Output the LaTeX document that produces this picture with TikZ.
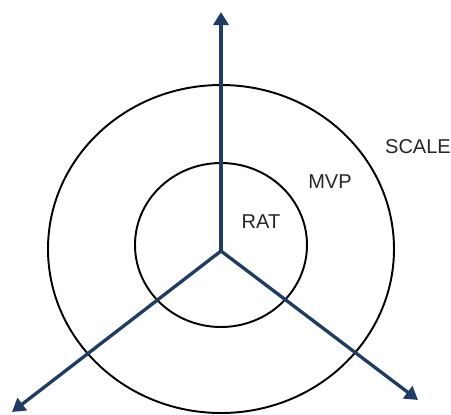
\documentclass[tikz,border=0pt]{standalone}
\usepackage{fontspec}
\setmainfont{Liberation Sans}
\usetikzlibrary{positioning,arrows.meta}
\definecolor{axisblue}{RGB}{31,61,99}
\tikzset{
  axisarrow/.style={-{Triangle[length=7.4pt, width=8.6pt]}, line width=1.9pt, draw=axisblue},
  ring/.style={draw=black, line width=1.1pt},
  stage/.style={font=\fontsize{11.4pt}{13pt}\selectfont, text=black!85, inner sep=0pt}
}
\begin{document}
\begin{tikzpicture}[x=0.02cm, y=-0.02cm]
      \useasboundingbox (0,0) rectangle (451,414);
      \coordinate (o) at (221,251);
      \coordinate (up) at (221,12);
      \coordinate (left) at (12,412);
      \coordinate (right) at (418,400);
      \draw[ring] (221,245) ellipse [x radius=86, y radius=82];
      \draw[ring] (221,249) ellipse [x radius=173, y radius=164];
      \draw[axisarrow] (o) -- (up);
      \draw[axisarrow] (o) -- (left);
      \draw[axisarrow] (o) -- (right);
      \node[stage] (rat) at (261,222) {RAT};
      \node[stage] (mvp) at (330,182) {MVP};
      \node[stage] (scale) at (418,147) {SCALE};
    \end{tikzpicture}
\end{document}
